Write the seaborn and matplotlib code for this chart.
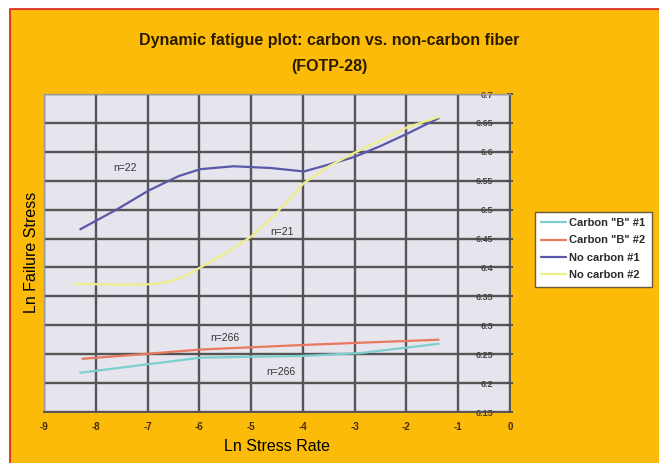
import numpy as np
import pandas as pd
import matplotlib
matplotlib.use("Agg")
import matplotlib.pyplot as plt
import seaborn as sns
from matplotlib.patches import Rectangle

# Data
carbon1_x = [-8.30, -6.95, -5.98, -3.98, -2.88, -1.38]
carbon1_y = [6.218, 6.233, 6.244, 6.247, 6.252, 6.268]

carbon2_x = [-8.26, -6.95, -5.98, -3.98, -1.38]
carbon2_y = [6.242, 6.251, 6.258, 6.266, 6.275]

nocarb1_x = [-8.30, -7.60, -6.98, -6.40, -5.98, -5.34, -4.62, -3.98, -3.50, -3.01, -2.50, -1.97, -1.38]
nocarb1_y = [6.466, 6.500, 6.533, 6.558, 6.570, 6.575, 6.572, 6.566, 6.578, 6.591, 6.610, 6.632, 6.658]

nocarb2_x = [-8.40, -7.53, -6.90, -6.56, -6.25, -5.98, -5.50, -4.99, -4.60, -4.23, -3.98, -3.50, -3.01, -2.50, -1.97, -1.38]
nocarb2_y = [6.372, 6.370, 6.371, 6.376, 6.386, 6.400, 6.424, 6.454, 6.486, 6.521, 6.546, 6.575, 6.598, 6.620, 6.643, 6.660]

series_names = ['Carbon "B" #1', 'Carbon "B" #2', 'No carbon #1', 'No carbon #2']
series_colors = ['#7CCFCF', '#E8785E', '#5A58A8', '#EEEE8A']

notes = ['n=22', 'n=21', 'n=266', 'n=266']
notes_x = [-7.43, -4.41, -5.51, -4.43]
notes_y = [6.572, 6.462, 6.278, 6.219]

x_ticks = list(range(-9, 1))
y_ticks = [6.15, 6.2, 6.25, 6.3, 6.35, 6.4, 6.45, 6.5, 6.55, 6.6, 6.65, 6.7]

frames = []
for name, xs, ys in zip(series_names,
                        [carbon1_x, carbon2_x, nocarb1_x, nocarb2_x],
                        [carbon1_y, carbon2_y, nocarb1_y, nocarb2_y]):
    frames.append(pd.DataFrame({'rate': xs, 'stress': ys, 'series': name}))
df = pd.concat(frames, ignore_index=True)

sns.set_theme(style="white")
plt.rcParams['font.family'] = ['Liberation Sans', 'DejaVu Sans']

orange = '#FBBB08'
fig = plt.figure(figsize=(6.59, 4.63), dpi=100, facecolor='white')
bg = Rectangle((10 / 659, -0.01), 1.0, 1 - 9.5 / 463 + 0.01,
               transform=fig.transFigure, facecolor=orange,
               edgecolor='#D8201A', linewidth=1.2, zorder=-10)
fig.add_artist(bg)

ax = fig.add_axes([44 / 659, 1 - 412 / 463, (510 - 44) / 659, (412 - 94) / 463])
ax.set_zorder(1)
ax.set_facecolor('#E6E4EC')

sns.lineplot(data=df, x='rate', y='stress', hue='series', hue_order=series_names,
             palette=series_colors, sort=False, estimator=None, linewidth=1.6,
             ax=ax, legend=False, zorder=3)

for txt, tx, ty in zip(notes, notes_x, notes_y):
    ax.text(tx, ty, txt, fontsize=7.5, color='#333333', ha='center', va='center', zorder=4)

ax.set_xlim(-9, 0)
ax.set_ylim(6.15, 6.7)
ax.set_xticks(x_ticks)
ax.set_xticklabels([str(v) for v in x_ticks], fontsize=7, fontweight='bold', color='#4a2a00')
ax.set_yticks(y_ticks)
ax.set_yticklabels([f"{v:g}" for v in y_ticks], fontsize=6.5, fontweight='bold', color='#444444')
ax.grid(True, color='#555555', linewidth=1.7, zorder=1)
ax.set_axisbelow(True)

ax.yaxis.tick_right()
ax.tick_params(axis='y', which='both', right=True, length=4, direction='inout',
               pad=-14, colors='#444444', labelsize=6.5)
for lbl in ax.get_yticklabels():
    lbl.set_horizontalalignment('right')
ax.tick_params(axis='x', length=3, direction='inout', pad=6, colors='#4a2a00')

for side in ['top', 'left']:
    ax.spines[side].set_color('#9a9a9a')
    ax.spines[side].set_linewidth(1.0)
for side in ['right', 'bottom']:
    ax.spines[side].set_color('#555555')
    ax.spines[side].set_linewidth(1.4)

ax.set_xlabel('Ln Stress Rate', fontsize=11.5, color='black', labelpad=5)
ax.set_ylabel('')
fig.text(32 / 659, 1 - 252 / 463, 'Ln Failure Stress', rotation=90, fontsize=11.5,
         ha='center', va='center', color='black')

fig.text(0.5, 1 - 40 / 463, 'Dynamic fatigue plot: carbon vs. non-carbon fiber',
         ha='center', va='center', fontsize=11.5, fontweight='bold', color='#2a1a00')
fig.text(0.5, 1 - 66 / 463, '(FOTP-28)', ha='center', va='center',
         fontsize=11.5, fontweight='bold', color='#2a1a00')

handles = [plt.Line2D([0], [0], color=c, linewidth=1.6) for c in series_colors]
leg = fig.legend(handles, series_names, loc='upper left',
                 bbox_to_anchor=(529 / 659, 1 - 206 / 463), frameon=True,
                 fancybox=False, framealpha=1, edgecolor='#6a5a3a',
                 prop={'size': 8, 'weight': 'bold'}, handlelength=2.2,
                 handletextpad=0.3, labelspacing=0.65, borderpad=0.6)
leg.get_frame().set_linewidth(1.0)
for t in leg.get_texts():
    t.set_color('#2a2a2a')

fig.savefig('out.png', dpi=100, facecolor=fig.get_facecolor())
